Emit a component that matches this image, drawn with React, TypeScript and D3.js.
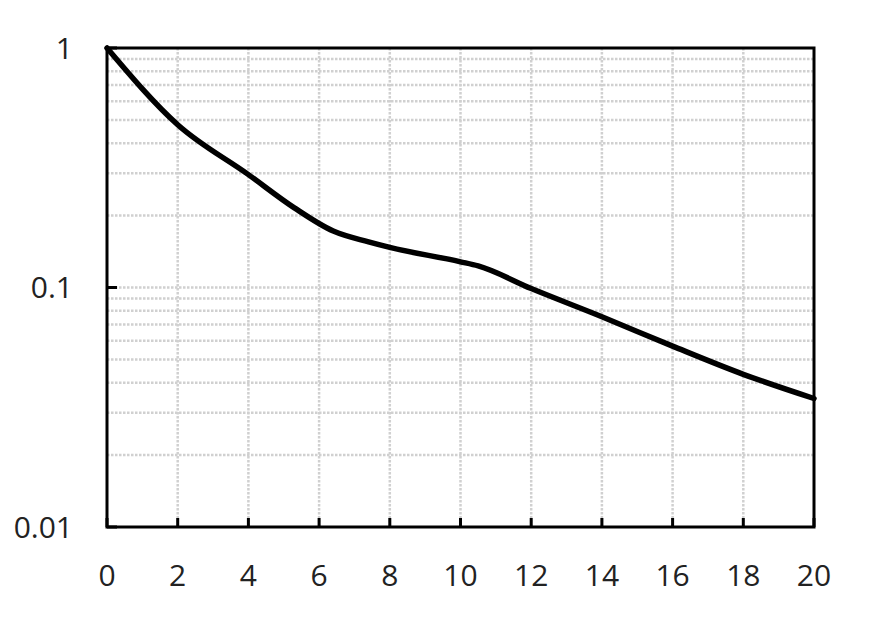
import React from "react";
import * as d3 from "d3";

const xValues = [0, 2, 4, 5.3, 6.4, 7.4, 8, 10, 10.5, 12, 14, 16, 18, 20];
const yValues = [1, 0.478, 0.296, 0.215, 0.172, 0.155, 0.147, 0.128, 0.123, 0.099, 0.0755, 0.0569, 0.0434, 0.0344];
const xTicks = [0, 2, 4, 6, 8, 10, 12, 14, 16, 18, 20];
const yTickLabels = [
  { v: 1, label: "1" },
  { v: 0.1, label: "0.1" },
  { v: 0.01, label: "0.01" },
];

const W = 874;
const H = 625;
const M = { left: 107, right: 814, top: 48, bottom: 527 };

export default function App() {
  const x = d3.scaleLinear().domain([0, 20]).range([M.left, M.right]);
  const y = d3.scaleLog().domain([0.01, 1]).range([M.bottom, M.top]);

  const minorY: number[] = [];
  for (const dec of [0.01, 0.1]) {
    for (let k = 1; k <= 9; k++) {
      const v = dec * k;
      if (v > 0.01 && v < 1) minorY.push(v);
    }
  }

  const data = xValues.map((xv, i) => [xv, yValues[i]] as [number, number]);
  const line = d3
    .line<[number, number]>()
    .x((d) => x(d[0]))
    .y((d) => y(d[1]))
    .curve(d3.curveMonotoneX);

  const font = "'Open Sans', sans-serif";

  return (
    <svg
      width={W}
      height={H}
      style={{ position: "absolute", left: 0, top: 0, background: "#fff" }}
    >
      <rect x={0} y={0} width={W} height={H} fill="#fff" />
      {minorY.map((v) => (
        <line
          key={"h" + v}
          x1={M.left}
          x2={M.right}
          y1={y(v)}
          y2={y(v)}
          stroke="#d0d0d0"
          strokeWidth={2.5}
          strokeDasharray="2.5,1.5"
        />
      ))}
      {xTicks
        .filter((t) => t > 0 && t < 20)
        .map((t) => (
          <line
            key={"v" + t}
            x1={x(t)}
            x2={x(t)}
            y1={M.top}
            y2={M.bottom}
            stroke="#d0d0d0"
            strokeWidth={2.5}
            strokeDasharray="2.5,1.5"
          />
        ))}
      <path
        d={line(data) || ""}
        fill="none"
        stroke="#000"
        strokeWidth={5.5}
        strokeLinejoin="round"
        strokeLinecap="round"
      />
      <rect
        x={M.left}
        y={M.top}
        width={M.right - M.left}
        height={M.bottom - M.top}
        fill="none"
        stroke="#000"
        strokeWidth={3}
      />
      {xTicks.map((t) => (
        <g key={"xt" + t}>
          <line x1={x(t)} x2={x(t)} y1={M.bottom} y2={M.bottom - 9} stroke="#000" strokeWidth={3} />
          <text
            x={x(t)}
            y={586}
            textAnchor="middle"
            fontFamily={font}
            fontSize={30}
            fill="#222"
          >
            {t}
          </text>
        </g>
      ))}
      {yTickLabels.map((t) => (
        <g key={"yt" + t.label}>
          <line x1={M.left} x2={M.left + 10} y1={y(t.v)} y2={y(t.v)} stroke="#000" strokeWidth={3} />
          <text
            x={73}
            y={y(t.v)}
            dy="0.36em"
            textAnchor="end"
            fontFamily={font}
            fontSize={30}
            fill="#222"
          >
            {t.label}
          </text>
        </g>
      ))}
    </svg>
  );
}
